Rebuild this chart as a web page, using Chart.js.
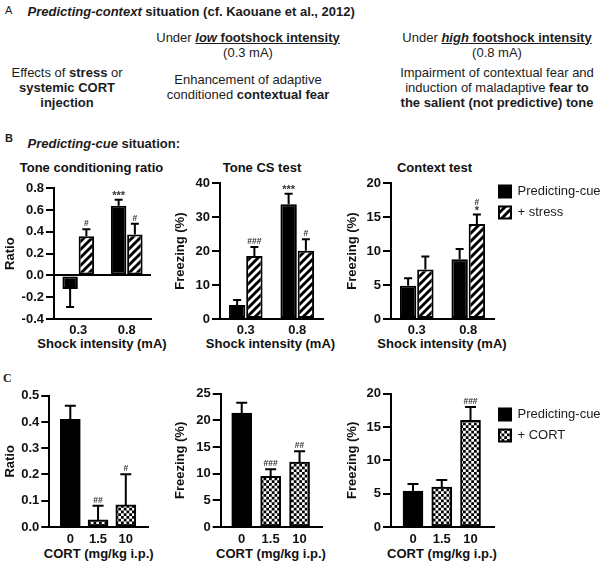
<!DOCTYPE html>
<html>
<head>
<meta charset="utf-8">
<script src="https://cdn.jsdelivr.net/npm/chart.js@4/dist/chart.umd.min.js"></script>
<style>
    html, body { margin: 0; padding: 0; background: #fff; }
    body { position: relative; width: 600px; height: 564px; overflow: hidden; font-family: "Liberation Sans", Arial, sans-serif; color: #1c1c1c; filter: blur(0.3px); }
    canvas { position: absolute; }
    .t { position: absolute; white-space: nowrap; font-size: 13px; line-height: 15.3px; }
    .c { transform: translateX(-50%); text-align: center; }
    .h { font-weight: bold; }
    .p { font-weight: bold; color: #111; }
</style>
</head>
<body>
<div class="t" style="left:5px;top:3px;font-size:11px">A</div>
<div class="t h" style="left:27.6px;top:4px"><i>Predicting-context</i> situation (cf. Kaouane et al., 2012)</div>
<div class="t c" style="left:248px;top:29.5px">Under <u><b><i>low</i> footshock intensity</b></u><br>(0.3 mA)</div>
<div class="t c" style="left:497px;top:29.5px">Under <u><b><i>high</i> footshock intensity</b></u><br>(0.8 mA)</div>
<div class="t c" style="left:67px;top:64.5px">Effects of <b>stress</b> or<br><b>systemic CORT<br>injection</b></div>
<div class="t c" style="left:248px;top:72px">Enhancement of adaptive<br>conditioned <b>contextual fear</b></div>
<div class="t c" style="left:497px;top:64.5px">Impairment of contextual fear and<br>induction of maladaptive <b>fear to<br>the salient (not predictive) tone</b></div>
<div class="t" style="left:5px;top:131px;font-size:11px;font-weight:bold">B</div>
<div class="t h" style="left:27.6px;top:136px"><i>Predicting-cue</i> situation:</div>
<div class="t c p" style="left:91.5px;top:160px">Tone conditioning ratio</div>
<div class="t c p" style="left:262px;top:160px">Tone CS test</div>
<div class="t c p" style="left:434.5px;top:160px">Context test</div>
<div class="t c p" style="left:102px;top:336px">Shock intensity (mA)</div>
<div class="t c p" style="left:270.5px;top:336px">Shock intensity (mA)</div>
<div class="t c p" style="left:442px;top:336px">Shock intensity (mA)</div>
<div class="t" style="left:3px;top:371px;font-family:'Liberation Serif';font-size:12px;font-weight:bold">C</div>
<div class="t c p" style="left:98.7px;top:546px">CORT (mg/kg i.p.)</div>
<div class="t c p" style="left:271px;top:546px">CORT (mg/kg i.p.)</div>
<div class="t c p" style="left:442px;top:546px">CORT (mg/kg i.p.)</div>

<canvas id="b1" width="160" height="186" style="left:0;top:170px"></canvas>
<canvas id="b2" width="160" height="186" style="left:170px;top:170px"></canvas>
<canvas id="b3" width="258" height="186" style="left:342px;top:170px"></canvas>
<canvas id="c1" width="160" height="178" style="left:0;top:384px"></canvas>
<canvas id="c2" width="160" height="178" style="left:170px;top:384px"></canvas>
<canvas id="c3" width="258" height="178" style="left:342px;top:384px"></canvas>

<script>
var shockLabels = ['0.3', '0.8'];
var doseSlots = [0, 1, 2];
var doseLabels = ['0', '1.5', '10'];

// B: ratio
var ratioCue = [-0.125, 0.64];
var ratioCueErr = [0.165, 0.055];
var ratioStress = [0.36, 0.375];
var ratioStressErr = [0.065, 0.10];
var ratioCueSig = ['', '***'];
var ratioStressSig = ['#', '#'];

// B: tone CS test
var toneCue = [4.1, 33.8];
var toneCueErr = [1.5, 3.1];
var toneStress = [18.6, 20.1];
var toneStressErr = [2.6, 3.4];
var toneCueSig = ['', '***'];
var toneStressSig = ['###', '#'];

// B: context test
var contextCue = [4.9, 8.8];
var contextCueErr = [1.1, 1.5];
var contextStress = [7.3, 14];
var contextStressErr = [1.9, 1.4];
var contextCueSig = ['', ''];
var contextStressSig = ['', '#\n*'];

// C: ratio
var cortRatioCue = [0.41, null, null];
var cortRatioCueErr = [0.052, 0, 0];
var cortRatio = [null, 0.027, 0.084];
var cortRatioErr = [0, 0.054, 0.117];
var cortRatioSig = ['', '##', '#'];

// C: tone freezing
var cortToneCue = [21.4, null, null];
var cortToneCueErr = [1.9, 0, 0];
var cortTone = [null, 9.5, 12.2];
var cortToneErr = [0, 1.35, 2];
var cortToneSig = ['', '###', '##'];

// C: context freezing
var cortContextCue = [5.4, null, null];
var cortContextCueErr = [1.05, 0, 0];
var cortContext = [null, 6, 16];
var cortContextErr = [0, 1.05, 2];
var cortContextSig = ['', '', '###'];

var FONT = '"Liberation Sans", Arial, sans-serif';

function hatchPattern() {
    var size = 8;
    var tile = document.createElement('canvas');
    tile.width = size;
    tile.height = size;
    var g = tile.getContext('2d');
    g.fillStyle = '#fff';
    g.fillRect(0, 0, size, size);
    g.strokeStyle = '#000';
    g.lineWidth = 3;
    for (var i = -1; i <= 1; i++) {
        g.beginPath();
        g.moveTo(i * size - 1, size + 1);
        g.lineTo(i * size + size + 1, -1);
        g.stroke();
    }
    return g.createPattern(tile, 'repeat');
}

function checkPattern() {
    // 11px tile holds two periods of a 5.5px checker
    var tile = document.createElement('canvas');
    tile.width = 11;
    tile.height = 11;
    var g = tile.getContext('2d');
    g.fillStyle = '#fff';
    g.fillRect(0, 0, 11, 11);
    g.fillStyle = '#000';
    for (var r = 0; r < 4; r++) {
        for (var c = 0; c < 4; c++) {
            if ((r + c) % 2 === 0) g.fillRect(c * 2.75, r * 2.75, 2.75, 2.75);
        }
    }
    return g.createPattern(tile, 'repeat');
}

// error bars and significance marks, read from each dataset
var errorBars = {
    id: 'errorBars',
    afterDatasetsDraw: function (chart, args, opts) {
        var ctx = chart.ctx;
        var y = chart.scales.y;
        ctx.save();
        ctx.strokeStyle = '#000';
        ctx.lineWidth = 2;
        chart.data.datasets.forEach(function (ds, d) {
            chart.getDatasetMeta(d).data.forEach(function (bar, i) {
                var v = ds.data[i];
                if (v === null) return;
                var end = v < 0 ? v - ds.errors[i] : v + ds.errors[i];
                var py = y.getPixelForValue(end);
                ctx.beginPath();
                ctx.moveTo(bar.x, y.getPixelForValue(v));
                ctx.lineTo(bar.x, py);
                ctx.moveTo(bar.x - opts.cap, py);
                ctx.lineTo(bar.x + opts.cap, py);
                ctx.stroke();
                if (ds.sig && ds.sig[i]) {
                    ctx.fillStyle = '#333';
                    ctx.textAlign = 'center';
                    ctx.textBaseline = 'bottom';
                    ds.sig[i].split('\n').reverse().forEach(function (line, n) {
                        var star = line.indexOf('*') >= 0;
                        ctx.font = 'bold ' + (star ? 11 : 8.5) + 'px ' + FONT;
                        ctx.fillText(line, bar.x, py - 1 - n * 7 + (star ? 3 : 0));
                    });
                }
            });
        });
        ctx.restore();
    }
};

// the legend sits in the right margin, outside the plot
var legendMove = {
    id: 'legendMove',
    afterLayout: function (chart, args, opts) {
        if (opts.top === undefined) return;
        chart.legend.left = opts.left;
        chart.legend.right = chart.width;
        chart.legend.top = opts.top;
        chart.legend.bottom = opts.top + 60;
    }
};

function series(label, values, errors, sig, fill) {
    return {
        label: label,
        data: values,
        errors: errors,
        sig: sig,
        backgroundColor: fill,
        borderColor: '#000',
        borderWidth: 2,
        borderSkipped: false
    };
}

function makeChart(id, cfg) {
    var plugins = {
        legend: { display: false },
        tooltip: { enabled: false },
        errorBars: { cap: cfg.cap },
        legendMove: { top: cfg.legendTop, left: 149 }
    };
    if (cfg.legendTop !== undefined) {
        plugins.legend = {
            display: true,
            position: 'chartArea',
            align: 'start',
            labels: {
                boxWidth: 12,
                boxHeight: 12,
                padding: 8,
                color: '#1c1c1c',
                font: { family: FONT, size: 13 }
            }
        };
    }
    return new Chart(document.getElementById(id), {
        type: 'bar',
        data: { labels: cfg.labels, datasets: cfg.datasets },
        plugins: [errorBars, legendMove],
        options: {
            responsive: false,
            animation: false,
            events: [],
            grouped: cfg.grouped,
            categoryPercentage: 0.67,
            barPercentage: 0.95,
            barThickness: cfg.barThickness,
            layout: { padding: { top: cfg.padTop, right: cfg.padRight, left: 0, bottom: 0 } },
            plugins: plugins,
            scales: {
                x: cfg.x,
                y: {
                    min: cfg.yMin,
                    max: cfg.yMax,
                    afterFit: function (s) { s.width = cfg.yWidth; },
                    afterBuildTicks: function (s) {
                        s.ticks = cfg.yTicks.map(function (v) { return { value: v }; });
                    },
                    border: { display: true, color: '#000', width: 2 },
                    grid: {
                        drawOnChartArea: cfg.yMin < 0,
                        color: function (c) { return c.tick && c.tick.value === 0 ? '#000' : 'rgba(0,0,0,0)'; },
                        tickColor: '#000',
                        lineWidth: 2,
                        tickLength: 8
                    },
                    ticks: {
                        autoSkip: false,
                        padding: 2,
                        color: '#111',
                        font: { family: FONT, size: 13, weight: 'bold' },
                        callback: function (v) { return cfg.yDigits ? Number(v).toFixed(cfg.yDigits) : v; }
                    },
                    title: {
                        display: true,
                        text: cfg.yTitle,
                        color: '#111',
                        padding: { top: 3, bottom: 0 },
                        font: { family: FONT, size: 13, weight: 'bold' }
                    }
                }
            }
        }
    });
}

function xShock(height) {
    return {
        type: 'category',
        afterFit: function (s) { s.height = height; },
        border: { display: true, color: '#000', width: 2 },
        grid: { display: false, drawTicks: false },
        ticks: { padding: 4, color: '#111', font: { family: FONT, size: 13, weight: 'bold' } }
    };
}

function xDose(height, min, max) {
    return {
        type: 'linear',
        offset: false,
        min: min,
        max: max,
        afterFit: function (s) { s.height = height; },
        afterBuildTicks: function (s) {
            s.ticks = doseSlots.map(function (v) { return { value: v }; });
        },
        border: { display: true, color: '#000', width: 2 },
        grid: { display: false, drawTicks: false, offset: false },
        ticks: {
            autoSkip: false,
            maxRotation: 0,
            padding: 5,
            color: '#111',
            font: { family: FONT, size: 13, weight: 'bold' },
            callback: function (v) { return doseLabels[v]; }
        }
    };
}

document.addEventListener('DOMContentLoaded', function () {
    var hatch = hatchPattern();
    var check = checkPattern();

    makeChart('b1', {
        labels: shockLabels, cap: 4, padTop: 18.3, padRight: 9, yWidth: 54,
        yMin: -0.4, yMax: 0.8, yTicks: [-0.4, -0.2, 0, 0.2, 0.4, 0.6, 0.8], yDigits: 1, yTitle: 'Ratio',
        x: xShock(37),
        datasets: [
            series('Predicting-cue', ratioCue, ratioCueErr, ratioCueSig, '#000'),
            series('+ stress', ratioStress, ratioStressErr, ratioStressSig, hatch)
        ]
    });
    makeChart('b2', {
        labels: shockLabels, cap: 4, padTop: 13.3, padRight: 7, yWidth: 50,
        yMin: 0, yMax: 40, yTicks: [0, 10, 20, 30, 40], yTitle: 'Freezing (%)',
        x: xShock(37),
        datasets: [
            series('Predicting-cue', toneCue, toneCueErr, toneCueSig, '#000'),
            series('+ stress', toneStress, toneStressErr, toneStressSig, hatch)
        ]
    });
    makeChart('b3', {
        labels: shockLabels, cap: 4, padTop: 13.3, padRight: 106, yWidth: 49,
        yMin: 0, yMax: 20, yTicks: [0, 5, 10, 15, 20], yTitle: 'Freezing (%)',
        x: xShock(37), legendTop: 7,
        datasets: [
            series('Predicting-cue', contextCue, contextCueErr, contextCueSig, '#000'),
            series('+ stress', contextStress, contextStressErr, contextStressSig, hatch)
        ]
    });
    makeChart('c1', {
        labels: doseSlots, cap: 5.5, padTop: 11.7, padRight: 11.7, yWidth: 49.3, grouped: false, barThickness: 20,
        yMin: 0, yMax: 0.5, yTicks: [0, 0.1, 0.2, 0.3, 0.4, 0.5], yDigits: 1, yTitle: 'Ratio',
        x: xDose(35, -0.757, 2.811),
        datasets: [
            series('Predicting-cue', cortRatioCue, cortRatioCueErr, null, '#000'),
            series('+ CORT', cortRatio, cortRatioErr, cortRatioSig, check)
        ]
    });
    makeChart('c2', {
        labels: doseSlots, cap: 5.5, padTop: 7.7, padRight: 7.3, yWidth: 50.7, grouped: false, barThickness: 20,
        yMin: 0, yMax: 25, yTicks: [0, 5, 10, 15, 20, 25], yTitle: 'Freezing (%)',
        x: xDose(35, -0.727, 2.8),
        datasets: [
            series('Predicting-cue', cortToneCue, cortToneCueErr, null, '#000'),
            series('+ CORT', cortTone, cortToneErr, cortToneSig, check)
        ]
    });
    makeChart('c3', {
        labels: doseSlots, cap: 5.5, padTop: 7.7, padRight: 106, yWidth: 49, grouped: false, barThickness: 20,
        yMin: 0, yMax: 20, yTicks: [0, 5, 10, 15, 20], yTitle: 'Freezing (%)',
        x: xDose(35, -0.765, 2.817), legendTop: 16,
        datasets: [
            series('Predicting-cue', cortContextCue, cortContextCueErr, null, '#000'),
            series('+ CORT', cortContext, cortContextErr, cortContextSig, check)
        ]
    });
});
</script>
</body>
</html>
